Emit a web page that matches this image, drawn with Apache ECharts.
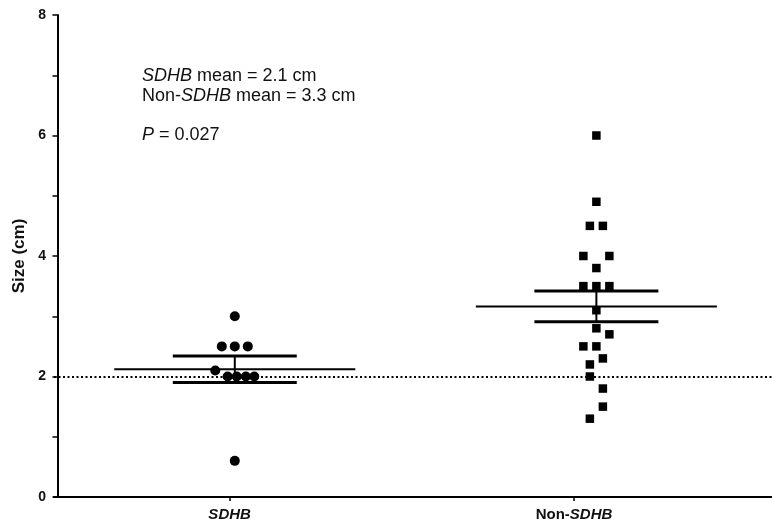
<!DOCTYPE html>
<html>
<head>
<meta charset="utf-8">
<style>
  html, body { margin: 0; padding: 0; background: #fff; }
  #chart { width: 772px; height: 527px; }
</style>
</head>
<body>
<div id="chart"></div>
<script src="https://cdn.jsdelivr.net/npm/echarts@6/dist/echarts.min.js"></script>
<script>
// categories and where they sit on the x axis
var categories = ['SDHB', 'Non-SDHB'];
var tickX = [1, 3];
var groupX = [1.03, 3.13];
var jitterStep = 0.0755;

// SDHB tumour sizes (cm) and their horizontal spread (in symbol steps)
var sdhbValues = [3.0, 2.5, 2.5, 2.5, 2.1, 2.0, 2.0, 2.0, 2.0, 0.6];
var sdhbOffsets = [0, -1, 0, 1, -1.5, -0.55, 0.15, 0.85, 1.5, 0];

// Non-SDHB tumour sizes (cm)
var nonValues = [6.0, 4.9, 4.5, 4.5, 4.0, 4.0, 3.8, 3.5, 3.5, 3.5, 3.1, 2.8, 2.7, 2.5, 2.5, 2.3, 2.2, 2.0, 1.8, 1.5, 1.3];
var nonOffsets = [0, 0, -0.5, 0.5, -1, 1, 0, -1, 0, 1, 0, 0, 1, -1, 0, 0.5, -0.5, -0.5, 0.5, 0.5, -0.5];

// mean and SEM bars
var means = [2.12, 3.16];
var semUpper = [2.34, 3.42];
var semLower = [1.90, 2.91];
var meanHalf = 0.70;
var semHalf = 0.36;

var refY = 2;

function points(values, offsets, gi) {
    return values.map(function (v, i) {
        return [groupX[gi] + offsets[i] * jitterStep, v];
    });
}

var chart = echarts.init(document.getElementById('chart'));

var fontFam = '"Liberation Sans", Arial, sans-serif';

var option = {
    animation: false,
    backgroundColor: '#fff',
    textStyle: { fontFamily: fontFam },
    title: [{
        left: 137,
        top: 61,
        text: '{i|SDHB} mean = 2.1 cm\nNon-{i|SDHB} mean = 3.3 cm',
        textStyle: {
            fontSize: 18, fontWeight: 'normal', color: '#111', lineHeight: 20,
            fontFamily: fontFam,
            rich: {
                i: { fontStyle: 'italic', fontSize: 18, color: '#111', lineHeight: 20, fontFamily: fontFam }
            }
        }
    }, {
        left: 137,
        top: 120,
        text: '{i|P} = 0.027',
        textStyle: {
            fontSize: 18, fontWeight: 'normal', color: '#111', lineHeight: 20,
            fontFamily: fontFam,
            rich: {
                i: { fontStyle: 'italic', fontSize: 18, color: '#111', lineHeight: 20, fontFamily: fontFam }
            }
        }
    }],
    grid: { left: 54, right: 0, top: 15, bottom: 30, containLabel: false, outerBoundsMode: 'none' },
    xAxis: {
        type: 'value',
        min: -0.02,
        max: 4.15,
        splitLine: { show: false },
        axisLine: { show: true, lineStyle: { color: '#000', width: 2 } },
        axisTick: { show: true, customValues: tickX, length: 4, lineStyle: { color: '#000', width: 1.5 } },
        axisLabel: {
            customValues: tickX,
            margin: 10,
            fontSize: 15,
            fontWeight: 'bold',
            color: '#111',
            fontFamily: fontFam,
            formatter: function (v) {
                return Math.abs(v - tickX[0]) < 0.01 ? '{i|SDHB}' : 'Non-{i|SDHB}';
            },
            rich: {
                i: { fontStyle: 'italic', fontWeight: 'bold', fontSize: 15, color: '#111', fontFamily: fontFam }
            }
        }
    },
    yAxis: {
        type: 'value',
        min: 0,
        max: 8,
        interval: 2,
        name: 'Size (cm)',
        nameLocation: 'middle',
        nameGap: 26,
        nameTextStyle: { fontSize: 17, fontWeight: 'bold', color: '#111', fontFamily: fontFam },
        splitLine: { show: false },
        axisLine: { show: true, lineStyle: { color: '#000', width: 2 } },
        axisTick: { show: true, length: 5, lineStyle: { color: '#000', width: 1.5 } },
        minorTick: { show: true, splitNumber: 2, length: 5, lineStyle: { color: '#000', width: 1.5 } },
        axisLabel: { margin: 8, fontSize: 14, fontWeight: 'bold', color: '#111', fontFamily: fontFam }
    },
    series: [{
        type: 'custom',
        z: 1,
        renderItem: function (params, api) {
            var g = params.dataIndex;
            var cx = groupX[g];
            var m = api.coord([cx - meanHalf, means[g]]);
            var m2 = api.coord([cx + meanHalf, means[g]]);
            var u = api.coord([cx - semHalf, semUpper[g]]);
            var u2 = api.coord([cx + semHalf, semUpper[g]]);
            var l = api.coord([cx - semHalf, semLower[g]]);
            var l2 = api.coord([cx + semHalf, semLower[g]]);
            var vt = api.coord([cx, semUpper[g]]);
            var vb = api.coord([cx, semLower[g]]);
            var st = { stroke: '#000', lineWidth: 2 };
            return {
                type: 'group',
                children: [
                    { type: 'line', shape: { x1: m[0], y1: m[1], x2: m2[0], y2: m2[1] }, style: st },
                    { type: 'line', shape: { x1: u[0], y1: u[1], x2: u2[0], y2: u2[1] }, style: { stroke: '#000', lineWidth: 3 } },
                    { type: 'line', shape: { x1: l[0], y1: l[1], x2: l2[0], y2: l2[1] }, style: { stroke: '#000', lineWidth: 3 } },
                    { type: 'line', shape: { x1: vt[0], y1: vt[1], x2: vb[0], y2: vb[1] }, style: st }
                ]
            };
        },
        data: categories.map(function (c, i) { return [groupX[i], means[i]]; }),
        markLine: {
            silent: true,
            symbol: 'none',
            label: { show: false },
            lineStyle: { color: '#000', width: 2, type: [2, 2.5] },
            data: [{ yAxis: refY }]
        }
    }, {
        name: categories[0],
        type: 'scatter',
        z: 3,
        symbol: 'circle',
        symbolSize: 10,
        itemStyle: { color: '#000', opacity: 1 },
        data: points(sdhbValues, sdhbOffsets, 0)
    }, {
        name: categories[1],
        type: 'scatter',
        z: 3,
        symbol: 'rect',
        symbolSize: 8.5,
        itemStyle: { color: '#000', opacity: 1 },
        data: points(nonValues, nonOffsets, 1)
    }]
};

chart.setOption(option);
</script>
</body>
</html>
